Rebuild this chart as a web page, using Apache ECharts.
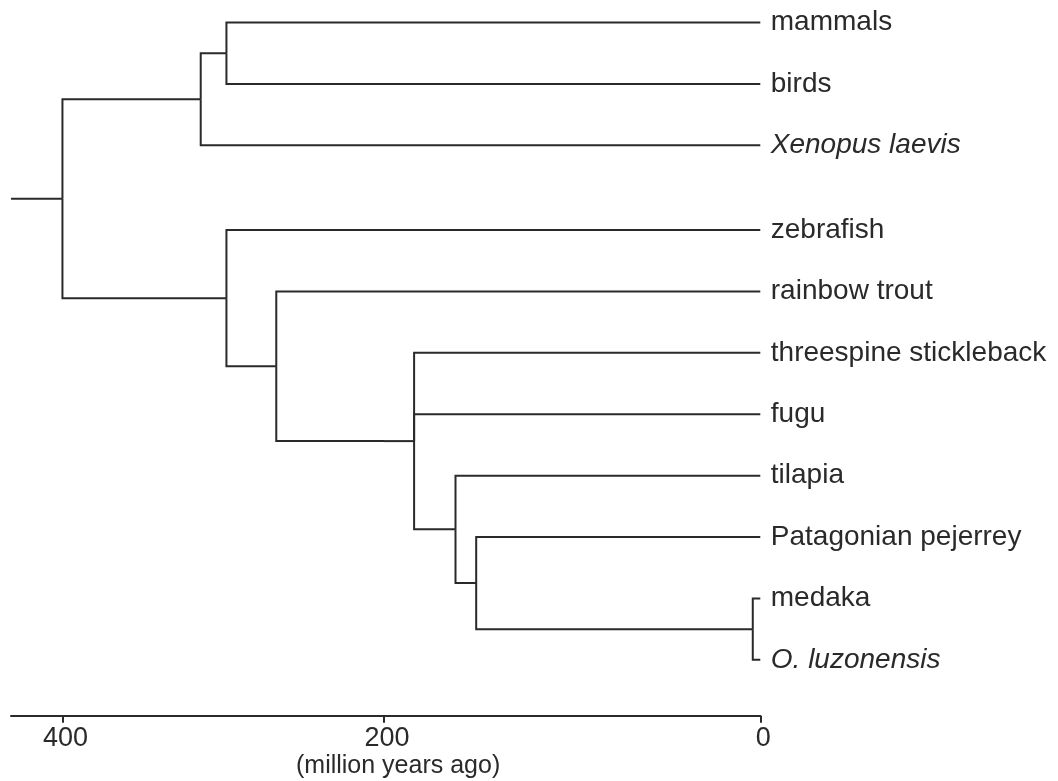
<!DOCTYPE html>
<html>
<head>
<meta charset="utf-8">
<script src="https://cdn.jsdelivr.net/npm/echarts@6/dist/echarts.min.js"></script>
<style>
  html, body { margin: 0; padding: 0; background: #ffffff; }
  #chart { width: 1058px; height: 781px; }
</style>
</head>
<body>
<div id="chart"></div>
<script>
// ---------- data (ages in million years ago) ----------
const leaves = ['mammals', 'birds', 'Xenopus laevis', 'zebrafish', 'rainbow trout',
  'threespine stickleback', 'fugu', 'tilapia', 'Patagonian pejerrey', 'medaka', 'O. luzonensis'];
const italicLeaves = ['Xenopus laevis', 'O. luzonensis'];
const leafGroup = [0, 0, 0, 1, 1, 1, 1, 1, 1, 1, 1];           // tetrapods / ray-finned fishes
const leafParents = ['amniotes', 'amniotes', 'tetrapods', 'teleosts', 'trout split',
  'percomorphs', 'percomorphs', 'tilapia split', 'pejerrey split', 'Oryzias', 'Oryzias'];

const nodeIds = ['root', 'tetrapods', 'amniotes', 'teleosts', 'trout split',
  'percomorphs', 'tilapia split', 'pejerrey split', 'Oryzias'];
const nodeAges = [400, 314, 298, 298, 267, 184, 162, 151, 4];
const nodeParents = [null, 'root', 'tetrapods', 'root', 'teleosts',
  'trout split', 'percomorphs', 'tilapia split', 'pejerrey split'];
const rootStemAge = 432;

const tickValues = [0, 200, 400];
const axisName = '(million years ago)';

// ---------- layout helpers ----------
// The reference time axis is drawn in two linear pieces (0-200 and 200-400),
// so it is built from two adjoining grids/axes that meet at 200.
const splitAge = 200;
const groupGap = 0.38;
const leafY = leaves.map((n, i) => i + leafGroup[i] * groupGap);

const nodeY = {};
function yOf(id) {
  const li = leaves.indexOf(id);
  if (li >= 0) return leafY[li];
  if (nodeY[id] !== undefined) return nodeY[id];
  const kids = [];
  leaves.forEach((n, i) => { if (leafParents[i] === id) kids.push(yOf(n)); });
  nodeIds.forEach((n, i) => { if (nodeParents[i] === id) kids.push(yOf(n)); });
  nodeY[id] = (Math.min(...kids) + Math.max(...kids)) / 2;
  return nodeY[id];
}
function ageOf(id) {
  const i = nodeIds.indexOf(id);
  return i >= 0 ? nodeAges[i] : 0;
}

const segA = [], segB = [];
// elbow edge: parent node -> down/up to child row -> across to child age
function addEdge(childId, parentId) {
  const pa = ageOf(parentId), py = yOf(parentId);
  const ca = ageOf(childId), cy = yOf(childId);
  if (pa <= splitAge) {
    segA.push({ coords: [[pa, py], [pa, cy], [ca, cy]] });
  } else if (ca >= splitAge) {
    segB.push({ coords: [[pa, py], [pa, cy], [ca, cy]] });
  } else {
    segB.push({ coords: [[pa, py], [pa, cy], [splitAge, cy]] });
    segA.push({ coords: [[splitAge, cy], [ca, cy]] });
  }
}
leaves.forEach((n, i) => addEdge(n, leafParents[i]));
nodeIds.forEach((n, i) => { if (nodeParents[i]) addEdge(n, nodeParents[i]); });
segB.push({ coords: [[rootStemAge, yOf('root')], [ageOf('root'), yOf('root')]] });

// ---------- chart ----------
const ink = '#2a2a2a';
const font = '"Liberation Sans", Arial, Helvetica, sans-serif';
const yRange = { min: -0.31, max: 11.29 };

const axisCommon = {
  type: 'value', inverse: true, position: 'bottom',
  axisLine: { show: true, onZero: false, lineStyle: { color: ink, width: 2 } },
  axisTick: { show: true, length: 7, lineStyle: { color: ink, width: 2 } },
  axisLabel: { color: ink, fontSize: 27, fontFamily: font, margin: 9, padding: [0, 0, 0, 6],
    formatter: v => tickValues.includes(v) ? String(v) : '' },
  splitLine: { show: false }
};
const treeLine = { color: ink, width: 2, opacity: 1, cap: 'butt', join: 'miter' };

const chart = echarts.init(document.getElementById('chart'), null, { renderer: 'canvas' });
chart.setOption({
  animation: false,
  backgroundColor: '#ffffff',
  title: {
    text: axisName, left: 296, top: 754, padding: 0,
    textStyle: { fontSize: 25, fontWeight: 'normal', color: ink, fontFamily: font }
  },
  grid: [
    { left: 384, right: 297.7, top: 3.5, bottom: 65.3 },
    { left: 11, right: 674, top: 3.5, bottom: 65.3 }
  ],
  xAxis: [
    Object.assign({}, axisCommon, { gridIndex: 0, min: 0, max: splitAge, interval: 200 }),
    Object.assign({}, axisCommon, {
      gridIndex: 1, min: splitAge, max: rootStemAge, interval: 200,
      axisTick: Object.assign({}, axisCommon.axisTick, { customValues: [400] }),
      axisLabel: Object.assign({}, axisCommon.axisLabel, { customValues: [400] })
    })
  ],
  yAxis: [
    { gridIndex: 0, type: 'value', inverse: true, min: yRange.min, max: yRange.max, show: false },
    { gridIndex: 1, type: 'value', inverse: true, min: yRange.min, max: yRange.max, show: false }
  ],
  series: [
    { type: 'lines', coordinateSystem: 'cartesian2d', xAxisIndex: 0, yAxisIndex: 0,
      polyline: true, data: segA, silent: true, clip: false, lineStyle: treeLine },
    { type: 'lines', coordinateSystem: 'cartesian2d', xAxisIndex: 1, yAxisIndex: 1,
      polyline: true, data: segB, silent: true, clip: false, lineStyle: treeLine },
    { type: 'scatter', xAxisIndex: 0, yAxisIndex: 0, symbol: 'circle', symbolSize: 1,
      silent: true, clip: false,
      itemStyle: { color: 'rgba(0,0,0,0)', opacity: 1 },
      label: { show: true, position: 'right', distance: 10, formatter: '{b}', opacity: 1,
        color: ink, fontSize: 28, fontFamily: font },
      data: leaves.map((n, i) => ({
        name: n, value: [0, leafY[i]],
        label: { fontStyle: italicLeaves.includes(n) ? 'italic' : 'normal' }
      })) }
  ]
});
</script>
</body>
</html>
